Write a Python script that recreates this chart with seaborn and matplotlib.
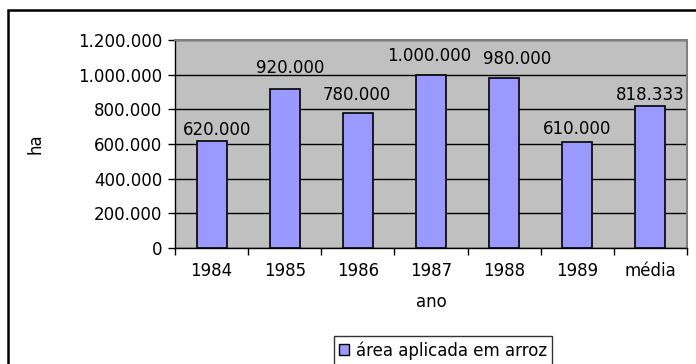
import matplotlib
matplotlib.use("Agg")
import matplotlib.pyplot as plt
import matplotlib.patches as mpatches
import seaborn as sns
import numpy as np

categories = ["1984", "1985", "1986", "1987", "1988", "1989", "média"]
values = [620000, 920000, 780000, 1000000, 980000, 610000, 818333]
yticks = [0, 200000, 400000, 600000, 800000, 1000000, 1200000]
series_name = "área aplicada em arroz"
xlabel = "ano"
ylabel = "ha"

# data-label placement nudges (px), as in the reference
label_gaps_px = [6, 16, 13, 14, 14, 8, 6]
label_dx_px = [5, 5, -1, -2, 13, 0, 0]

def fmt(v):
    return f"{v:,.0f}".replace(",", ".")

sns.set_theme(style="white")
plt.rcParams["font.family"] = ["DejaVu Sans"]
for k in ["text.color", "axes.labelcolor", "xtick.color", "ytick.color"]:
    plt.rcParams[k] = "black"
FS = 12

W, H = 696, 364
fig = plt.figure(figsize=(W / 100, H / 100), dpi=100)
ax = fig.add_axes([175 / W, 1 - 248 / H, (687 - 175) / W, (248 - 40) / H])
ax.set_facecolor("#C0C0C0")

sns.barplot(x=categories, y=values, ax=ax, color="#9999FF", width=0.41,
            edgecolor="black", linewidth=1.2, saturation=1, zorder=3)

ax.set_ylim(0, 1200000)
ax.set_yticks(yticks)
ax.set_yticklabels([fmt(v) for v in yticks], fontsize=FS)
ax.yaxis.grid(True, color="black", linewidth=1.0, zorder=1)
ax.set_axisbelow(True)
ax.set_xlim(-0.5, len(categories) - 0.5)

ax.tick_params(axis="x", which="major", length=0, labelsize=FS, pad=10)
ax.set_xticks(np.arange(-0.5, len(categories), 1), minor=True)
ax.tick_params(axis="x", which="minor", length=5, width=1, color="black", direction="out", bottom=True)
ax.tick_params(axis="y", length=5, width=1, color="black", direction="out", left=True, pad=4)

for s in ["left", "bottom"]:
    ax.spines[s].set_color("black")
    ax.spines[s].set_linewidth(1.0)
for s in ["top", "right"]:
    ax.spines[s].set_color("#808080")
    ax.spines[s].set_linewidth(1.5)

for i, (v, g, dx) in enumerate(zip(values, label_gaps_px, label_dx_px)):
    ax.annotate(fmt(v), (i, v), xytext=(dx * 0.72, g * 0.72), textcoords="offset points",
                ha="center", va="baseline", fontsize=FS, zorder=5)

ax.set_xlabel(xlabel, fontsize=FS)
ax.set_ylabel(ylabel, fontsize=FS)
ax.xaxis.set_label_coords(0.5, -0.215)
ax.yaxis.set_label_coords(-0.255, 0.5)

handle = mpatches.Patch(facecolor="#9999FF", edgecolor="black", linewidth=1.0, label=series_name)
leg = fig.legend(handles=[handle], loc="upper center", bbox_to_anchor=(443 / W, 1 - 336 / H),
                 fontsize=FS, frameon=True, fancybox=False, shadow=False,
                 handlelength=0.6, handleheight=0.6, handletextpad=0.4, borderpad=0.3,
                 borderaxespad=0)
leg.get_frame().set_edgecolor("black")
leg.get_frame().set_linewidth(1.0)

frame = mpatches.Rectangle((8 / W, -0.2), 1.5, 1.2 - 10 / H, transform=fig.transFigure,
                           fill=False, edgecolor="black", linewidth=1.8, zorder=10)
fig.patches.append(frame)

fig.savefig("out.png", dpi=100, facecolor="white")
